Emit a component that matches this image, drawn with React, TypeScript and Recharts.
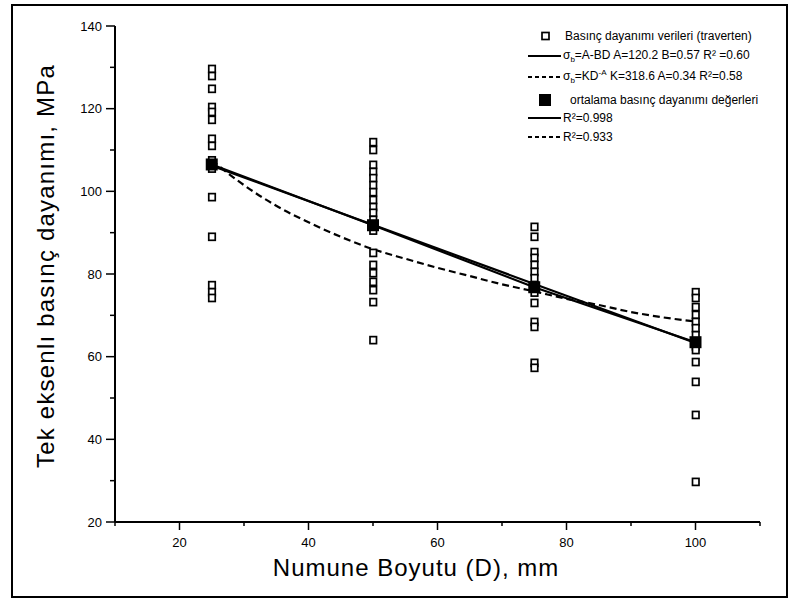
import React from 'react'
import { ComposedChart, XAxis, YAxis, Scatter, Line } from 'recharts'

// sample diameters (mm)
const sizes = [25, 50, 75, 100]

// individual UCS readings per diameter (MPa)
const strength25 = [129.6, 127.9, 124.8, 120.4, 119.2, 117.3, 112.7, 111.0, 107.5, 105.5, 98.6, 89.0, 77.3, 75.6, 74.2]
const strength50 = [111.9, 110.0, 106.4, 104.7, 103.2, 101.5, 99.8, 97.9, 96.2, 94.8, 93.1, 90.5, 85.1, 82.2, 80.2, 78.1, 76.1, 73.2, 64.0]
const strength75 = [91.4, 89.0, 85.3, 83.9, 82.2, 80.5, 79.0, 77.3, 75.5, 73.0, 68.4, 67.2, 58.5, 57.3]
const strength100 = [75.6, 74.2, 72.0, 70.1, 68.4, 66.9, 65.2, 62.5, 61.6, 58.7, 53.9, 45.9, 29.7]

const meanStrength = [106.5, 91.8, 76.8, 63.5]

// linear fit, read at its end points
const linearFitX = [25, 100]
const linearFitY = [106.2, 63.3]

// power fit
const powerFitX = [25, 30, 35, 40, 45, 50, 55, 60, 65, 70, 75, 80, 85, 90, 95, 100]
const powerFitY = [107.5, 101.5, 96.5, 92.5, 89.0, 86.0, 83.7, 81.5, 79.5, 77.5, 75.8, 74.0, 72.5, 70.8, 69.5, 68.5]

const xTicks = [10, 20, 30, 40, 50, 60, 70, 80, 90, 100, 110]
const xLabels = [20, 40, 60, 80, 100]
const yTicks = [20, 30, 40, 50, 60, 70, 80, 90, 100, 110, 120, 130, 140]
const yLabels = [20, 40, 60, 80, 100, 120, 140]

const font = 'Arial, "Liberation Sans", Helvetica, sans-serif'

const rawPoints = [
  ...strength25.map((y) => ({ x: sizes[0], y })),
  ...strength50.map((y) => ({ x: sizes[1], y })),
  ...strength75.map((y) => ({ x: sizes[2], y })),
  ...strength100.map((y) => ({ x: sizes[3], y })),
]
const meanPoints = sizes.map((x, i) => ({ x, y: meanStrength[i] }))
const linearData = linearFitX.map((x, i) => ({ x, y: linearFitY[i] }))
const powerData = powerFitX.map((x, i) => ({ x, y: powerFitY[i] }))

function OpenSquare(props: any) {
  const { cx, cy } = props
  return <rect x={cx - 3} y={cy - 3.5} width={6.5} height={7} fill="#fff" stroke="#000" strokeWidth={1.7} />
}

function FilledSquare(props: any) {
  const { cx, cy } = props
  return <rect x={cx - 6} y={cy - 6} width={12} height={12} fill="#000" />
}

function XTick(props: any) {
  const { x, y, payload } = props
  const major = xLabels.includes(payload.value)
  return (
    <g>
      <line x1={x} x2={x} y1={y} y2={y + (major ? 8 : 4)} stroke="#000" strokeWidth={1.5} />
      {major && (
        <text x={x} y={y + 25} textAnchor="middle" fontSize={13} fontFamily={font} fill="#000">
          {payload.value}
        </text>
      )}
    </g>
  )
}

function YTick(props: any) {
  const { x, y, payload } = props
  const major = yLabels.includes(payload.value)
  return (
    <g>
      <line x1={x} x2={x - (major ? 9 : 5)} y1={y} y2={y} stroke="#000" strokeWidth={1.5} />
      {major && (
        <text x={x - 13} y={y + 4.5} textAnchor="end" fontSize={13} fontFamily={font} fill="#000">
          {payload.value}
        </text>
      )}
    </g>
  )
}

function LegendRow({ top, sample, children }: { top: number; sample: React.ReactNode; children: React.ReactNode }) {
  return (
    <div style={{ position: 'absolute', left: 526, top: top - 8, height: 16, display: 'flex', alignItems: 'center', whiteSpace: 'nowrap' }}>
      <svg width={37} height={14} style={{ flex: 'none' }}>{sample}</svg>
      <span>{children}</span>
    </div>
  )
}

export default function App() {
  return (
    <div style={{ position: 'absolute', left: 0, top: 0, width: 798, height: 607, background: '#fff', fontFamily: font }}>
      <div style={{ position: 'absolute', left: 11, top: 4, width: 777, height: 594, border: '2px solid #000', boxSizing: 'border-box' }} />

      <div style={{ position: 'absolute', left: 0, top: 0 }}>
        <ComposedChart width={798} height={607} margin={{ top: 26, right: 38, bottom: 45, left: 55 }}>
          <XAxis
            type="number"
            dataKey="x"
            domain={[10, 110]}
            ticks={xTicks}
            interval={0}
            height={40}
            tickSize={0}
            tickMargin={0}
            tickLine={false}
            tick={<XTick />}
            axisLine={{ stroke: '#000', strokeWidth: 2 }}
          />
          <YAxis
            type="number"
            dataKey="y"
            domain={[20, 140]}
            ticks={yTicks}
            interval={0}
            width={60}
            tickSize={0}
            tickMargin={0}
            tickLine={false}
            tick={<YTick />}
            axisLine={{ stroke: '#000', strokeWidth: 2 }}
          />
          <Scatter data={rawPoints} shape={<OpenSquare />} isAnimationActive={false} />
          <Line data={linearData} dataKey="y" type="linear" stroke="#000" strokeWidth={2.2} dot={false} isAnimationActive={false} />
          <Line data={meanPoints} dataKey="y" type="linear" stroke="#000" strokeWidth={2.2} dot={false} isAnimationActive={false} />
          <Line data={powerData} dataKey="y" type="monotone" stroke="#000" strokeWidth={2.2} strokeDasharray="7 4" dot={false} isAnimationActive={false} />
          <Scatter data={meanPoints} shape={<FilledSquare />} isAnimationActive={false} />
        </ComposedChart>
      </div>

      <div
        style={{
          position: 'absolute',
          left: 46,
          top: 266,
          transform: 'translate(-50%, -50%) rotate(-90deg)',
          fontSize: 24,
          letterSpacing: 1.2,
          whiteSpace: 'nowrap',
          color: '#000',
        }}
      >
        Tek eksenlı basınç dayanımı, MPa
      </div>
      <div
        style={{
          position: 'absolute',
          left: 416,
          top: 568,
          transform: 'translate(-50%, -50%)',
          fontSize: 24,
          letterSpacing: 1,
          whiteSpace: 'nowrap',
          color: '#000',
        }}
      >
        Numune Boyutu (D), mm
      </div>

      <div style={{ fontSize: 12, color: '#000', letterSpacing: 0 }}>
        <LegendRow top={36} sample={<rect x={16} y={3.5} width={7} height={7} fill="#fff" stroke="#000" strokeWidth={1.7} />}>
          <span style={{ marginLeft: 2 }}>Basınç dayanımı verileri (traverten)</span>
        </LegendRow>
        <LegendRow top={56} sample={<line x1={2} x2={35} y1={7} y2={7} stroke="#000" strokeWidth={2} />}>
          σ<sub style={{ fontSize: 8 }}>b</sub>=A-BD A=120.2 B=0.57 R² =0.60
        </LegendRow>
        <LegendRow top={77} sample={<line x1={2} x2={35} y1={7} y2={7} stroke="#000" strokeWidth={2} strokeDasharray="4 3" />}>
          σ<sub style={{ fontSize: 8 }}>b</sub>=KD<sup style={{ fontSize: 8 }}>-A</sup> K=318.6 A=0.34 R²=0.58
        </LegendRow>
        <LegendRow top={100} sample={<rect x={13} y={1} width={12} height={12} fill="#000" />}>
          <span style={{ marginLeft: 7 }}>ortalama basınç dayanımı değerleri</span>
        </LegendRow>
        <LegendRow top={118} sample={<line x1={2} x2={35} y1={7} y2={7} stroke="#000" strokeWidth={2} />}>
          R²=0.998
        </LegendRow>
        <LegendRow top={137} sample={<line x1={2} x2={35} y1={7} y2={7} stroke="#000" strokeWidth={2} strokeDasharray="4 3" />}>
          R²=0.933
        </LegendRow>
      </div>
    </div>
  )
}
